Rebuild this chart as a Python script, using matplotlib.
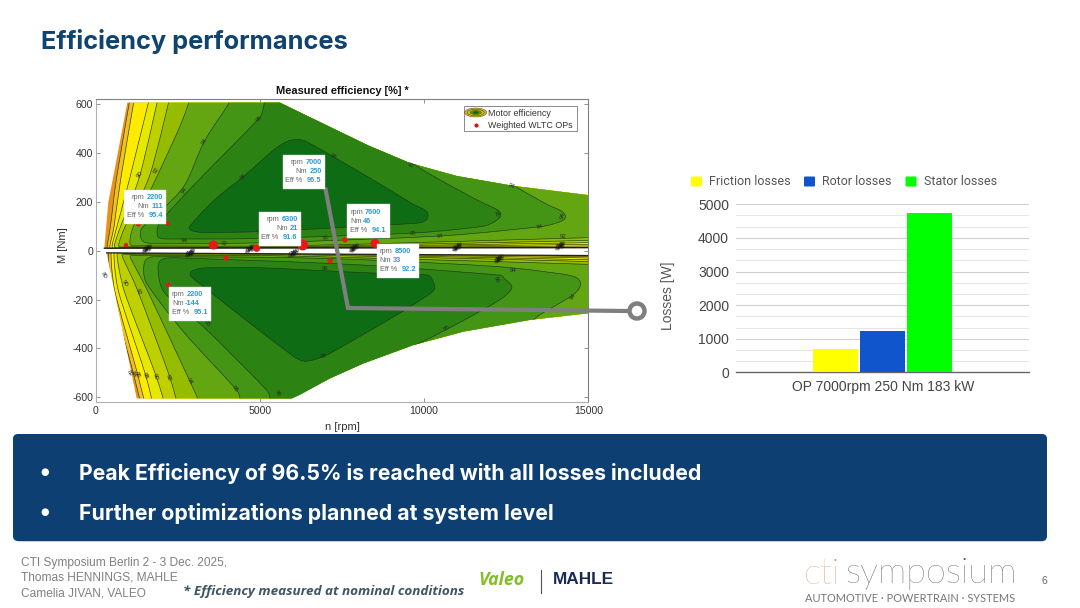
import math
import matplotlib
matplotlib.use("Agg")
import matplotlib.pyplot as plt
from matplotlib.patches import PathPatch, Polygon, Rectangle, FancyBboxPatch, Circle, Ellipse
from matplotlib.path import Path

plt.rcParams['axes.unicode_minus'] = False

# ---- map data: (rpm, Nm) outlines
env_up = [(262,10),(384,199),(536,303),(963,605),(5612,605),(6300,560),(7316,494),(8300,430),(9570,358),(11000,305),(12708,265),(15000,227),(15000,12)]
env_dn = [(333,-9),(15000,-20),(15000,-256),(13225,-283),(11195,-331),(9672,-386),(8150,-461),(7135,-522),(6200,-590),(5967,-604),(1247,-604)]

up_levels = [
 [(16000,14),(16000,14),(6000,11),(600,11),(350,12),(450,100),(638,300),(1095,660),(1095,660),(16000,660),(16000,660)],
 [(16000,20),(16000,20),(6000,12),(700,12),(430,13),(560,100),(770,300),(1227,660),(1227,660),(16000,660),(16000,660)],
 [(16000,27),(16000,27),(6000,13),(800,13),(500,14),(650,100),(1044,300),(1704,660),(1704,660),(16000,660),(16000,660)],
 [(16000,35),(16000,35),(6000,14),(900,14),(570,16),(760,100),(1350,310),(1958,660),(1958,660),(16000,660),(16000,660)],
 [(16000,45),(16000,45),(6000,16),(1000,16),(700,20),(900,100),(1650,310),(2313,660),(2313,660),(16000,660),(16000,660)],
 [(16000,57),(16000,57),(6000,20),(1400,20),(1050,26),(1150,100),(1958,330),(2600,520),(2973,660),(2973,660),(16000,660),(16000,660)],
 [(5000,32),(1800,30),(1430,40),(1400,90),(2000,165),(2718,270),(3307,446),(4000,590),(4400,680),(9000,680),(12000,340),(12667,272),(13732,190),(14200,160),(14280,130),(13900,108),(13530,98),(10480,60)],
 [(5000,50),(2100,48),(1880,60),(1950,115),(3000,270),(4972,541),(5500,650),(7000,590),(9000,430),(9900,335),(11500,215),(12250,165),(12300,135),(11800,100),(9672,72)],
 [(5000,78),(3200,75),(2850,95),(3600,205),(4495,303),(5500,420),(6120,455),(6700,425),(7235,384),(8500,285),(9600,195),(10100,155),(9900,115),(8150,100)],
]
dn_levels = [
 [(16000,-22),(16000,-22),(6000,-10),(700,-10),(400,-11),(490,-170),(1145,-500),(1430,-660),(1430,-660),(16000,-660),(16000,-660)],
 [(16000,-26),(16000,-26),(6000,-11),(800,-11),(470,-12),(590,-170),(1267,-500),(1560,-660),(1560,-660),(16000,-660),(16000,-660)],
 [(16000,-32),(16000,-32),(6000,-12),(900,-12),(560,-13),(700,-170),(1500,-500),(1800,-660),(1800,-660),(16000,-660),(16000,-660)],
 [(16000,-40),(16000,-40),(6000,-13),(1000,-13),(650,-15),(880,-170),(1805,-500),(2180,-660),(2180,-660),(16000,-660),(16000,-660)],
 [(16000,-48),(16000,-48),(6000,-16),(1100,-16),(800,-20),(1298,-170),(2211,-500),(2560,-660),(2560,-660),(16000,-660),(16000,-660)],
 [(16000,-60),(16000,-60),(6000,-22),(1400,-20),(1050,-25),(1600,-170),(2871,-535),(3300,-660),(3300,-660),(16000,-660),(16000,-660)],
 [(7000,-32),(1750,-25),(1480,-50),(1550,-133),(2668,-331),(4292,-570),(4698,-670),(6500,-670),(10000,-430),(13000,-312),(13530,-262),(14544,-180),(14760,-130),(14400,-100),(12210,-65)],
 [(8000,-58),(3000,-32),(2100,-32),(1900,-70),(2110,-174),(3380,-324),(5205,-570),(5612,-650),(7000,-590),(7700,-520),(9000,-435),(10687,-322),(12200,-210),(12667,-154),(12450,-115),(12300,-100)],
 [(8150,-90),(5000,-70),(3200,-72),(2880,-100),(3500,-170),(4698,-297),(6000,-430),(6424,-452),(7135,-420),(9165,-263),(10281,-165),(10230,-115),(10078,-99)],
]
level_colors = ['#F4BE22','#FFEB00','#E6E800','#BFD000','#96BC00','#64A612','#449416','#2C8314','#0E6C14']
env_color = '#E8921A'

contour_rpm = [1350,1856,3307,2718,4972,4495,7235,9571,12667,12210,14240,10480,13530,9672,14240,2700,3900,5000,7000,
               230,1024,1145,1267,1500,1805,2211,2871,4241,5561,6931,7000,10687,14544,12210,1298,880,3400,12700]
contour_nm = [310,330,446,248,541,303,384,350,262,153,146,60,98,71,57,40,30,75,50,
              -100,-500,-505,-508,-512,-515,-520,-535,-567,-583,-431,-75,-317,-188,-120,-167,-133,-300,-80]
contour_txt = ['90','92','94','94','95','96','96','92','94','95','94','94','94','95','92','94','92','96','95',
               '80','82','84','86','88','90','92','94','95','96','96','96','95','94','95','92','90','95','94']
contour_rot = [50,55,55,55,55,40,-30,-30,-25,-70,80,5,10,5,0,-5,-5,0,10,
               -60,-60,-60,-70,-70,-70,-70,-60,-55,-50,10,0,30,60,-70,-70,-60,-50,0]
cluster_rpm = [1602,2922,4749,6068,7896,11043,14189,12312]
cluster_nm = [12,-6,12,-6,14,18,24,-30]
cluster_txt = ['92','94','90','88','86']

wltc_rpm = [1298,922,3581,4900,6302,7590,8505,3967,7134,2211,2200]
wltc_nm = [109,23,23,10,23,44,30,-31,-42,-140,111]
wltc_size = [14,10,42,28,60,14,42,14,14,12,10]

tip_rpm = [2200,6300,7000,7600,8500,2200]
tip_nm = [111,21,250,46,33,-144]
tip_eff = ['95.4','91.6','96.5','94.1','92.2','95.1']

xticks_map = [0,5000,10000,15000]
yticks_map = [-600,-400,-200,0,200,400,600]

loss_names = ['Friction losses','Rotor losses','Stator losses']
loss_vals = [695,1225,4730]
loss_colors = ['#FFFF00','#1155CC','#00FF00']
loss_ticks = [0,1000,2000,3000,4000,5000]
loss_cat = 'OP 7000rpm 250 Nm 183 kW'

W,H = 1080,608
fig = plt.figure(figsize=(W/100,H/100),dpi=100,facecolor='white')
SANS = 'Liberation Sans'

def axpx(x0,y0,x1,y1,**kw):
    return fig.add_axes([x0/W,1-y1/H,(x1-x0)/W,(y1-y0)/H],**kw)

# ---- overlay in pixel units
ov = fig.add_axes([0,0,1,1],zorder=10)
ov.set_xlim(0,W); ov.set_ylim(H,0); ov.axis('off'); ov.patch.set_alpha(0)

# ---- map
ax = axpx(95.7,99.3,588.3,402)
ax.set_xlim(0,15000); ax.set_ylim(-619,619)

def smooth(pts):
    # closed Bezier path through every listed vertex
    n=len(pts)
    sx,sy = 1/15000, 1/1238
    def dist(a,b):
        return math.hypot((a[0]-b[0])*sx,(a[1]-b[1])*sy)
    def tangent(i):
        p0,p1,p2 = pts[i-1],pts[i],pts[(i+1)%n]
        d = dist(p0,p2); m = min(dist(p0,p1),dist(p1,p2))
        if d==0 or m==0: return (0,0)
        f = m/d/2.6
        return ((p2[0]-p0[0])*f,(p2[1]-p0[1])*f)
    v=[pts[0]]; c=[Path.MOVETO]
    for i in range(n):
        p1,p2 = pts[i],pts[(i+1)%n]
        t1,t2 = tangent(i),tangent((i+1)%n)
        v += [(p1[0]+t1[0],p1[1]+t1[1]),(p2[0]-t2[0],p2[1]-t2[1]),p2]
        c += [Path.CURVE4]*3
    return Path(v,c)

for env,levels in ((env_up,up_levels),(env_dn,dn_levels)):
    e = Polygon(env,closed=True,fc=env_color,ec='none',zorder=1)
    ax.add_patch(e)
    for lv,col in zip(levels,level_colors):
        p = PathPatch(smooth(lv),fc=col,ec='#1c3a10',lw=0.45,zorder=2)
        ax.add_patch(p); p.set_clip_path(e)

ax.plot([env_up[0][0],15000],[env_up[0][1],env_up[-1][1]],color='#111111',lw=0.9,zorder=3)
ax.plot([env_dn[0][0],15000],[env_dn[0][1],env_dn[1][1]],color='#222222',lw=0.9,zorder=3)

for x,y,t,r in zip(contour_rpm,contour_nm,contour_txt,contour_rot):
    ax.text(x,y,t,fontsize=4.4,color='#2a2a2a',rotation=r,ha='center',va='center',family=SANS,zorder=4)
for x,y in zip(cluster_rpm,cluster_nm):
    for i,t in enumerate(cluster_txt):
        ax.text(x+(i-2)*40,y+(i-2)*3,t,fontsize=4.5,color='#111111',rotation=80,ha='center',va='center',family=SANS,zorder=4)

ax.scatter(wltc_rpm,wltc_nm,s=wltc_size,color='#E81818',lw=0,zorder=5)
ax.set_xticks(xticks_map); ax.set_yticks(yticks_map)
ax.tick_params(direction='in',length=3,width=0.6,color='#808080',labelcolor='#333333',labelsize=7.6,top=True,right=True,pad=3)
ax.tick_params(axis='y',pad=2)
for l in ax.get_xticklabels()+ax.get_yticklabels(): l.set_family(SANS)
for k,s in ax.spines.items():
    s.set_color('#808080' if k in ('top','right') else '#B0B0B0'); s.set_linewidth(0.8)
ov.text(342,91,'Measured efficiency [%] *',fontsize=7.9,fontweight='bold',family=SANS,ha='center',va='center',color='#111111')
ov.text(342,427,'n [rpm]',fontsize=8,family=SANS,ha='center',va='center',color='#333333')
ov.text(63,245,'M [Nm]',fontsize=8,family=SANS,ha='center',va='center',rotation=90,color='#333333')

# map legend
ov.add_patch(Rectangle((463.7,105.7),113.3,25.6,fc='white',ec='#8a8a8a',lw=0.7))
for w,h,c in ((22,9,'#E8B020'),(17,6.5,'#C8C800'),(11,4,'#4F9A14'),(5,2,'#0E6A14')):
    ov.add_patch(Ellipse((475.7,112.5),w,h,fc=c,ec='#333333',lw=0.3))
ov.scatter([475.7],[124.7],s=9,color='#D01818',lw=0)
ov.text(488,113,'Motor efficiency',fontsize=6.4,family=SANS,va='center',color='#333333')
ov.text(488,125,'Weighted WLTC OPs',fontsize=6.4,family=SANS,va='center',color='#333333')

# connector
fig.canvas.draw()
def topx(x,y):
    a,b = ax.transData.transform((x,y))
    return a, H-b
cx,cy = topx(tip_rpm[2],tip_nm[2])
ov.plot([cx,348,628],[cy,308,311],color='#7F7F7F',lw=3,solid_joinstyle='miter',zorder=1)
ov.add_patch(Circle((637,311),7.5,fc='white',ec='#7F7F7F',lw=3.2,zorder=2))

# data tips: box offset relative to anchor, flag = right aligned or left
tip_box = [(-44,-34,'r'),(-44,-34,'r'),(-43,-35,'r'),(2,-35,'l'),(2,1,'l'),(1,1,'l')]
FS = 5.3
val_off = {'rpm':14.7,'Nm':13,'Eff %':21.7}
for x,y,e,(dx,dy,al) in zip(tip_rpm,tip_nm,tip_eff,tip_box):
    a,b = topx(x,y)
    bx,by = a+dx,b+dy
    ov.add_patch(Rectangle((bx,by),42.5,34,fc='white',ec='#dddddd',lw=0.3,zorder=3))
    rows = [('rpm',str(x)),('Nm',str(y)),('Eff %',e)]
    for i,(lab,val) in enumerate(rows):
        yy = by+8+i*9
        w = len(val)*4.1 - (1.8 if '.' in val else 0)
        if al=='r':
            ov.text(bx+39,yy,val,fontsize=FS,color='#2E9BD0',fontweight='bold',family=SANS,ha='right',va='center',zorder=4)
            ov.text(bx+39-w-2-(2.5 if i==2 else 0),yy,lab,fontsize=FS,color='#666666',family=SANS,ha='right',va='center',zorder=4)
        else:
            ov.text(bx+3,yy,lab,fontsize=FS,color='#666666',family=SANS,va='center',zorder=4)
            ov.text(bx+3+val_off[lab],yy,val,fontsize=FS,color='#2E9BD0',fontweight='bold',family=SANS,va='center',zorder=4)

# ---- bar chart
bx = axpx(736,204.3,1029,372.3)
bx.set_xlim(-2.13,4.115); bx.set_ylim(0,5000)
bx.bar(range(3),loss_vals,width=0.96,color=loss_colors,zorder=3)
bx.set_yticks(loss_ticks)
bx.set_yticks([v+s for v in loss_ticks[:-1] for s in (333,667)],minor=True)
bx.grid(True,which='major',axis='y',color='#CFCFCF',lw=0.8,zorder=0)
bx.grid(True,which='minor',axis='y',color='#E6E6E6',lw=0.7,zorder=0)
bx.set_xticks([])
bx.tick_params(axis='y',which='both',length=0,labelsize=10,labelcolor='#444444',pad=5)
for l in bx.get_yticklabels(): l.set_family(SANS)
for k,s in bx.spines.items():
    s.set_visible(k=='bottom')
bx.spines['bottom'].set_color('#666666'); bx.spines['bottom'].set_linewidth(1)
bx.patch.set_alpha(0)
ov.text(882.7,387.5,loss_cat,fontsize=10,family=SANS,ha='center',va='center',color='#444444')
ov.text(668,296,'Losses [W]',fontsize=10,family=SANS,ha='center',va='center',rotation=90,color='#555555')
for nm,c,sx,tx in zip(loss_names,loss_colors,(691,804,905.5),(709,822,924)):
    ov.add_patch(FancyBboxPatch((sx,176.5),11,10,boxstyle='round,pad=0,rounding_size=1',fc=c,ec='none'))
    ov.text(tx,181.5,nm,fontsize=9,family='Roboto',va='center',color='#555555')

# ---- slide furniture
ov.text(41,41,'Efficiency performances',fontsize=18.3,fontweight='bold',family='Inter',va='center',color='#0F4470')
ov.add_patch(FancyBboxPatch((15,437),1031,105,boxstyle='round,pad=0,rounding_size=5',fc='#9aa5b0',ec='none',alpha=0.5,zorder=0))
ov.add_patch(FancyBboxPatch((13,434),1034,107,boxstyle='round,pad=0,rounding_size=5',fc='#0D3F73',ec='none',zorder=1))
for y,t in ((473,'Peak Efficiency of 96.5% is reached with all losses included'),(513,'Further optimizations planned at system level')):
    ov.text(45,y-1,'●',fontsize=7,family='DejaVu Sans',color='white',ha='center',va='center',zorder=2)
    ov.text(79,y,t,fontsize=15.3,fontweight='bold',family='Inter',color='white',va='center',zorder=2)
for y,t in ((563,'CTI Symposium Berlin 2 - 3 Dec. 2025,'),(577,'Thomas HENNINGS, MAHLE'),(594,'Camelia JIVAN, VALEO')):
    ov.text(21,y,t,fontsize=8.6,family=SANS,color='#808080',va='center')
ov.text(183,592,'* Efficiency measured at nominal conditions',fontsize=9.7,fontweight='bold',style='italic',family='Open Sans',color='#3F5562',va='center')
ov.text(478,580,'Valeo',fontsize=12.8,fontweight='bold',style='italic',family='Open Sans',color='#82BE28',va='center')
ov.plot([541,541],[570,593],color='#555555',lw=0.8)
ov.text(553,580,'MAHLE',fontsize=12.4,fontweight='bold',family='Liberation Sans',color='#1B2A55',va='center')
ov.text(804,574,'cti',fontsize=26,family='Lato',fontweight='light',color='#D08F55',va='center')
ov.text(845,574,'symposium',fontsize=26,family='Lato',fontweight='light',color='#444444',va='center')
ov.text(805,598,'AUTOMOTIVE · POWERTRAIN · SYSTEMS',fontsize=7.95,family='Lato',color='#777777',va='center')
ov.text(1044,581,'6',fontsize=7.5,family=SANS,color='#666666',ha='center',va='center')

fig.savefig('out.png',dpi=100)
